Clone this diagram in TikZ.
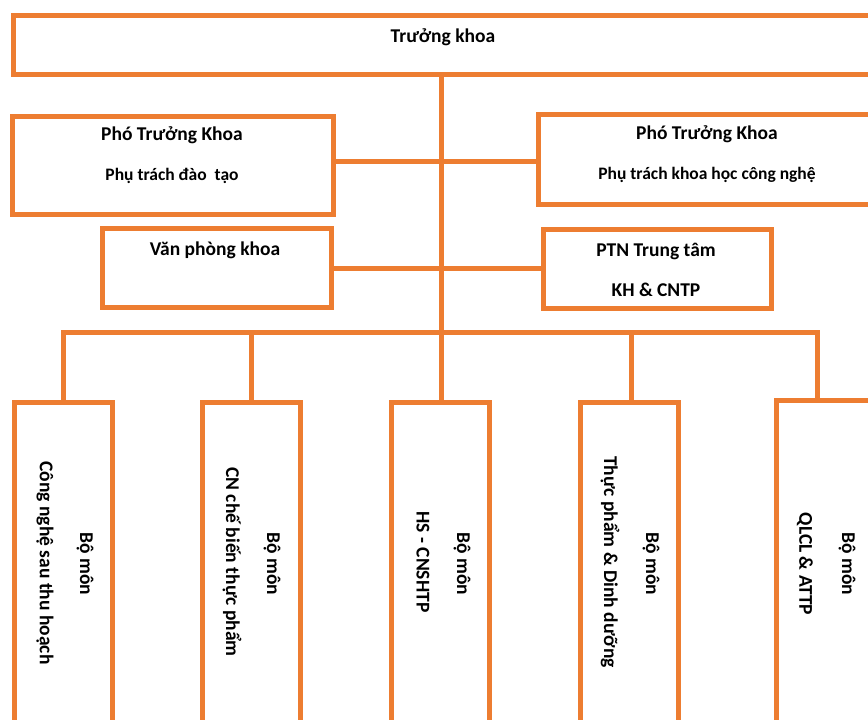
\documentclass[tikz,border=0pt]{standalone}
\usepackage{fontspec}
\setmainfont{Carlito}
\definecolor{org}{HTML}{ED7D31}
\begin{document}
\begin{tikzpicture}[x=1pt,y=-1pt,
  box/.style={draw=org,line width=5pt,inner sep=0pt,outer sep=0pt,rectangle},
  wire/.style={draw=org,line width=5pt,line cap=rect},
  lbl/.style={font=\bfseries\fontsize{19.5}{23}\selectfont,inner sep=0pt,text=black},
  lbls/.style={font=\bfseries\fontsize{17.5}{21}\selectfont,inner sep=0pt,text=black},
  vlbl/.style={lbl,rotate=-90}]
\useasboundingbox (0,0) rectangle (868,720);
\clip (0,0) rectangle (868,720);
% boxes
\node[box,minimum width=880pt,minimum height=59pt] (top) at (453,44.5) {};
\node[box,minimum width=321pt,minimum height=98pt] (pk1) at (172.5,165) {};
\node[box,minimum width=352pt,minimum height=90pt] (pk2) at (714,159) {};
\node[box,minimum width=229pt,minimum height=79pt] (vp) at (216.5,267.5) {};
\node[box,minimum width=228pt,minimum height=79pt] (ptn) at (657,268.5) {};
\node[box,minimum width=98pt,minimum height=358pt] (b1) at (63,581) {};
\node[box,minimum width=98pt,minimum height=358pt] (b2) at (251,581) {};
\node[box,minimum width=98pt,minimum height=358pt] (b3) at (440,581) {};
\node[box,minimum width=98pt,minimum height=358pt] (b4) at (629,581) {};
\node[box,minimum width=98pt,minimum height=360pt] (b5) at (825,580) {};
% junctions
\coordinate (j1) at (441,161);
\coordinate (j2) at (441,268);
\coordinate (bus) at (441,332);
\coordinate (d4) at (631,332);
\coordinate (d5) at (817,332);
% connectors
\draw[wire] (top.south -| bus) -- (b3.north -| bus);
\draw[wire] (pk1.east |- j1) -- (pk2.west |- j1);
\draw[wire] (vp.east |- j2) -- (ptn.west |- j2);
\draw[wire] (b1.north) -- (b1.north |- bus) -- (d5) -- (d5 |- b5.north);
\draw[wire] (b2.north) -- (b2.north |- bus);
\draw[wire] (d4) -- (d4 |- b4.north);
% labels
\node[lbl] (t0) at (443,37) {Trưởng khoa};
\node[lbl] (t1) at (172,135) {Phó Trưởng Khoa};
\node[lbls] (t2) at (172,176) {Phụ trách đào~ tạo};
\node[lbl] (t3) at (707,134) {Phó Trưởng Khoa};
\node[lbls] (t4) at (707,175) {Phụ trách khoa học công nghệ};
\node[lbl] (t5) at (215,250) {Văn phòng khoa};
\node[lbl] (t6) at (656,251) {PTN Trung tâm};
\node[lbl] (t7) at (656,290) {KH \& CNTP};
\node[vlbl] (v1a) at (85,564) {Bộ môn};
\node[vlbl] (v1b) at (45,563) {Công nghệ sau thu hoạch};
\node[vlbl] (v2a) at (272,564) {Bộ môn};
\node[vlbl] (v2b) at (232,562) {CN chế biến thực phẩm};
\node[vlbl] (v3a) at (462,564) {Bộ môn};
\node[vlbl] (v3b) at (423,562) {HS - CNSHTP};
\node[vlbl] (v4a) at (651,564) {Bộ môn};
\node[vlbl] (v4b) at (610,562) {Thực phẩm \& Dinh dưỡng};
\node[vlbl] (v5a) at (847,564) {Bộ môn};
\node[vlbl] (v5b) at (805,564) {QLCL \& ATTP};
\end{tikzpicture}
\end{document}
